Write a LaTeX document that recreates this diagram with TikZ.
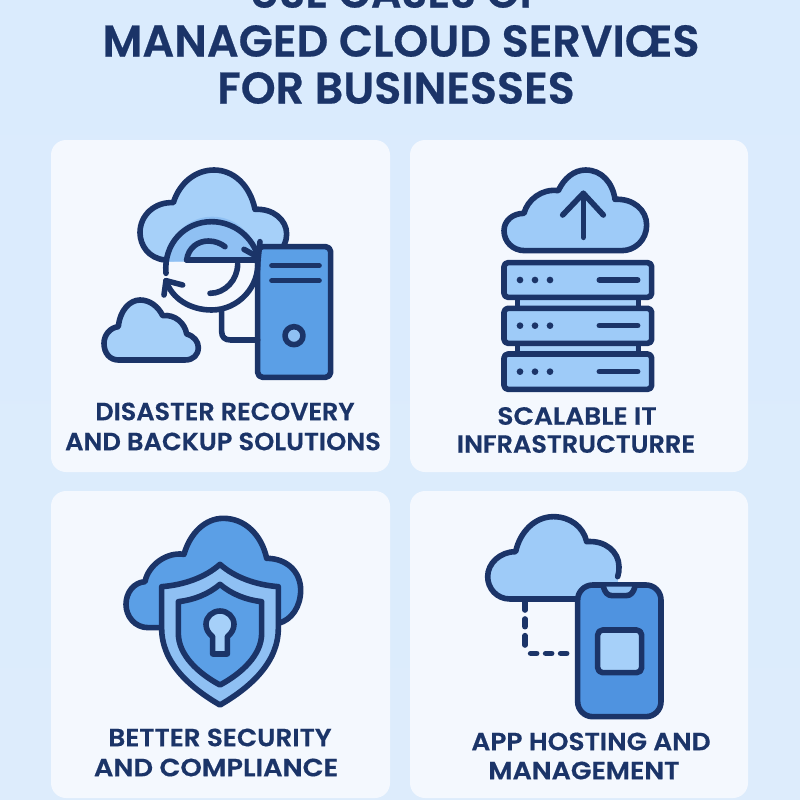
\documentclass[tikz,border=0pt]{standalone}
\usepackage{fontspec}
\usepackage{graphicx}
\setmainfont{Poppins SemiBold}[FakeBold=0.5]
\newcommand\sx[2]{\scalebox{#1}[1]{#2}}
\definecolor{navy}{HTML}{1B3468}
\definecolor{bgtop}{HTML}{DAEBFD}
\definecolor{bgbot}{HTML}{DDECFC}
\definecolor{cardc}{HTML}{F4F8FE}
\definecolor{lightb}{HTML}{A6D0F9}
\definecolor{cloudb}{HTML}{9ECBF8}
\definecolor{midb}{HTML}{8FC0F3}
\definecolor{deepb}{HTML}{5B9FE6}
\definecolor{phoneb}{HTML}{4F93E0}
\tikzset{
  card/.style={fill=cardc,draw=none,rounded corners=15bp},
  ink/.style={draw=navy,line width=5.6bp,line join=round,line cap=round},
  thin ink/.style={draw=navy,line width=5bp,line join=round,line cap=round},
  title/.style={text=navy,font=\fontsize{44.6}{45}\selectfont,anchor=center,inner sep=0pt},
  lab/.style={text=navy,font=\fontsize{25}{25}\selectfont,anchor=center,inner sep=0pt},
  zoomed/.style={x=0.33333bp,y=-0.33333bp},
}
\begin{document}
\begin{tikzpicture}[x=1bp,y=-1bp]
\useasboundingbox (0,0) rectangle (800,800);
\clip (0,0) rectangle (800,800);
\shade[top color=bgtop,bottom color=bgbot] (0,0) rectangle (800,800);
\path[card] (51,140) rectangle (390,472);
\path[card] (410,140) rectangle (748,472);
\path[card] (51,491) rectangle (390,798);
\path[card] (410,491) rectangle (748,798);

% title
\node[title] (t0) at (396,-8) {\sx{0.96}{USE CASES OF}};
\node[title] (t1) at (401,41) {MANAGED CLOUD SERVIŒS};
\node[title] (t2) at (396,88) {FOR BUSINESSES};

% icon 1
\begin{scope}[shift={(90,160)},zoomed]
  \fill[lightb] (225,305) .. controls (175,295) and (150,255) .. (150,218) .. controls (150,165) and (195,125) .. (250,128) .. controls (270,65) and (320,30) .. (372,30) .. controls (430,30) and (480,75) .. (495,148) .. controls (550,145) and (590,180) .. (590,222) .. controls (590,265) and (555,300) .. (505,300) -- cycle;
  \fill[midb] (232,305) arc[start angle=180,end angle=360,radius=135] -- cycle;
  \draw[ink] (225,300) .. controls (175,295) and (150,255) .. (150,218) .. controls (150,165) and (195,125) .. (250,128) .. controls (270,65) and (320,30) .. (372,30) .. controls (430,30) and (480,75) .. (495,148) .. controls (550,145) and (590,180) .. (590,222) .. controls (590,265) and (555,300) .. (505,300);
  % tower
  \draw[ink,fill=deepb,rounded corners=5bp] (503,260) rectangle (722,652);
  \draw[thin ink] (545,317) -- (688,317);
  \draw[thin ink] (545,362) -- (688,362);
  \draw[ink,fill=midb] (612,527) circle[radius=27];
  % link
  \draw[ink] (395,450) -- (395,515) .. controls (395,532) and (405,540) .. (422,540) -- (503,540);
  % circular arrows
  \draw[ink] (228,340) .. controls (220,250) and (285,185) .. (365,185) .. controls (430,185) and (490,230) .. (505,295);
  \draw[ink] (503,300) .. controls (510,380) and (445,450) .. (365,450) .. controls (300,450) and (245,415) .. (228,362);
  \draw[ink] (222,405) -- (228,362) -- (278,375);
  \draw[ink] (510,245) -- (505,292) -- (462,268);
  % inner swirl
  \draw[ink] (290,300) -- (505,300);
  \draw[ink] (290,300) .. controls (295,262) and (325,243) .. (355,243) .. controls (375,243) and (392,250) .. (405,260);
  \draw[ink] (443,312) .. controls (443,360) and (405,400) .. (360,400);
  % small cloud
  \draw[ink,fill=lightb] (85,600) .. controls (60,600) and (42,580) .. (42,550) .. controls (42,525) and (60,503) .. (85,500) .. controls (90,450) and (120,420) .. (150,420) .. controls (180,420) and (205,440) .. (218,467) .. controls (255,462) and (285,490) .. (290,522) .. controls (312,528) and (325,545) .. (325,562) .. controls (325,585) and (310,600) .. (285,600) -- cycle;
\end{scope}

% icon 2
\begin{scope}[shift={(490,160)},zoomed]
  \draw[ink,fill=cloudb] (105,272) .. controls (68,272) and (42,245) .. (42,212) .. controls (42,182) and (68,160) .. (102,160) .. controls (112,120) and (155,85) .. (205,92) .. controls (222,55) and (252,30) .. (287,30) .. controls (335,30) and (368,68) .. (375,118) .. controls (430,115) and (470,150) .. (470,195) .. controls (470,240) and (435,272) .. (395,272) -- cycle;
  \draw[ink] (280,232) -- (280,100);
  \draw[ink] (218,165) -- (280,100) -- (340,165);
  % connectors between units
  \draw[thin ink,fill=lightb] (82,405) rectangle (445,450);
  \draw[thin ink,fill=lightb] (82,545) rectangle (445,590);
  % units
  \foreach \yt/\yb/\yc in {308/412/360,445/550/497,582/688/635}{
    \draw[ink,fill=cloudb,rounded corners=4bp] (42,\yt) rectangle (485,\yb);
    \foreach \dx in {90,135,180} \fill[navy] (\dx,\yc) circle[radius=10];
    \draw[ink] (328,\yc) -- (443,\yc);
  }
\end{scope}

% icon 3
\begin{scope}[shift={(110,505)},zoomed]
  \draw[ink,fill=deepb] (160,368) -- (115,368) .. controls (75,368) and (48,335) .. (48,298) .. controls (48,262) and (72,232) .. (105,230) .. controls (115,180) and (170,140) .. (222,148) .. controls (240,85) and (285,40) .. (340,40) .. controls (405,40) and (455,90) .. (470,160) .. controls (530,160) and (572,200) .. (572,255) .. controls (572,305) and (545,345) .. (505,355);
  \draw[ink,fill=midb] (330,178) .. controls (285,218) and (220,240) .. (155,245) -- (155,370) .. controls (155,470) and (235,545) .. (330,600) .. controls (425,545) and (505,470) .. (505,370) -- (505,245) .. controls (440,240) and (375,218) .. (330,178) -- cycle;
  \draw[ink,fill=deepb] (330,238) .. controls (295,268) and (250,285) .. (205,290) -- (205,385) .. controls (205,450) and (265,505) .. (330,540) .. controls (395,505) and (455,450) .. (455,385) -- (455,290) .. controls (410,285) and (365,268) .. (330,238) -- cycle;
  \draw[ink,fill=lightb] (308,447) -- (308,395) .. controls (295,385) and (288,372) .. (288,358) .. controls (288,335) and (307,318) .. (330,318) .. controls (353,318) and (372,335) .. (372,358) .. controls (372,372) and (365,385) .. (352,395) -- (352,447) -- cycle;
\end{scope}

% icon 4
\begin{scope}[shift={(475,505)},zoomed]
  \fill[cloudb] (305,282) -- (105,282) .. controls (65,282) and (38,250) .. (38,215) .. controls (38,175) and (75,140) .. (122,140) .. controls (135,80) and (180,35) .. (235,35) .. controls (285,35) and (325,65) .. (335,110) .. controls (390,105) and (432,140) .. (432,190) -- (428,240) -- cycle;
  \draw[ink] (305,282) -- (105,282) .. controls (65,282) and (38,250) .. (38,215) .. controls (38,175) and (75,140) .. (122,140) .. controls (135,80) and (180,35) .. (235,35) .. controls (285,35) and (325,65) .. (335,110) .. controls (390,105) and (432,140) .. (432,185) .. controls (433,195) and (431,205) .. (428,215);
  \draw[ink,fill=phoneb,rounded corners=15bp] (308,240) rectangle (558,635);
  \draw[ink,fill=midb] (385,245) .. controls (390,262) and (397,272) .. (412,272) -- (453,272) .. controls (468,272) and (475,262) .. (480,245);
  \draw[ink,fill=lightb,rounded corners=5bp] (368,375) rectangle (500,503);
  \foreach \ya/\yb in {285/315,342/365,392/420} \draw[ink] (150,\ya) -- (150,\yb);
  \foreach \xa/\xb in {167/185,212/230,257/275} \draw[ink] (\xa,445) -- (\xb,445);
\end{scope}

% labels
\node[lab] (l1) at (225,411.5) {\sx{1.024}{DISASTER RECOVERY}};
\node[lab] (l2) at (223,441.5) {\sx{1.033}{AND BACKUP SOLUTIONS}};
\node[lab] (l3) at (577,416) {\sx{1.067}{SCALABLE IT}};
\node[lab] (l4) at (576,444) {\sx{1.03}{INFRASTRUCTURRE}};
\node[lab] (l5) at (220,737.5) {\sx{1.057}{BETTER SECURITY}};
\node[lab] (l6) at (216,767.5) {\sx{1.095}{AND COMPLIANCE}};
\node[lab] (l7) at (591,741.5) {\sx{1.062}{APP HOSTING AND}};
\node[lab] (l8) at (584,770.5) {\sx{1.08}{MANAGEMENT}};
\end{tikzpicture}
\end{document}
